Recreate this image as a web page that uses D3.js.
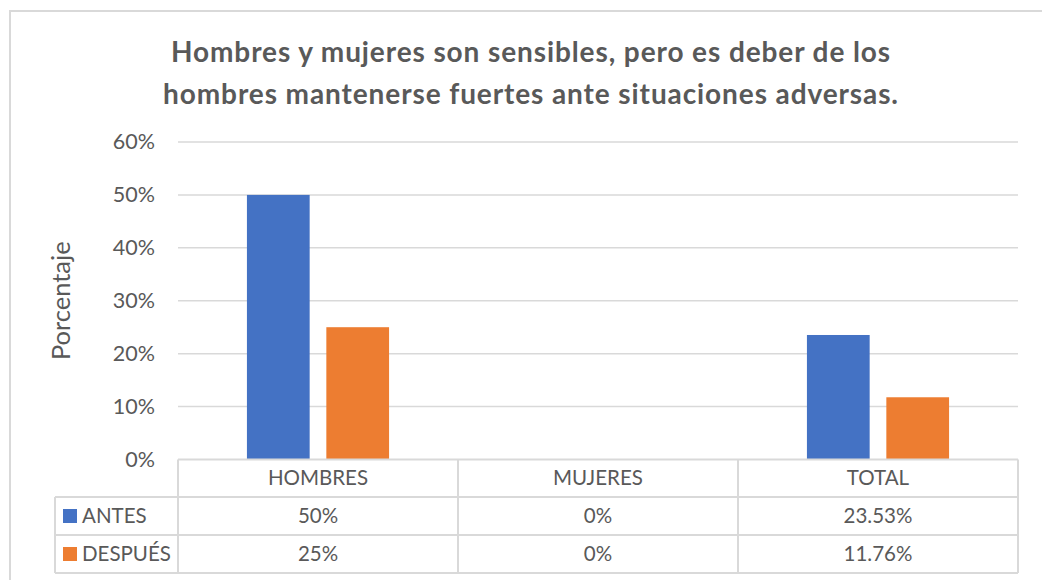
<!DOCTYPE html>
<html>
<head>
<meta charset="utf-8">
<script src="https://cdn.jsdelivr.net/npm/d3@7"></script>
<style>
  html, body { margin: 0; padding: 0; background: #fff; }
  svg { display: block; }
  text { font-family: Lato, "Open Sans", sans-serif; fill: #595959; }
</style>
</head>
<body>
<svg id="chart" width="1042" height="580"></svg>
<script>
const titleLines = ["Hombres y mujeres son sensibles, pero es deber de los",
                    "hombres mantenerse fuertes ante situaciones adversas."];
const categories = ["HOMBRES", "MUJERES", "TOTAL"];
const seriesNames = ["ANTES", "DESPUÉS"];
const antes = [0.50, 0.0, 0.2353];
const despues = [0.25, 0.0, 0.1176];
const antesLabels = ["50%", "0%", "23.53%"];
const despuesLabels = ["25%", "0%", "11.76%"];
const yTicks = [0, 0.1, 0.2, 0.3, 0.4, 0.5, 0.6];
const colors = ["#4472C4", "#ED7D31"];
const yTitle = "Porcentaje";

const series = [antes, despues];
const seriesLabels = [antesLabels, despuesLabels];

const svg = d3.select("#chart");

// outer chart border
svg.append("rect")
  .attr("x", 10).attr("y", 11).attr("width", 1050).attr("height", 600)
  .attr("fill", "none").attr("stroke", "#d9d9d9").attr("stroke-width", 2);

const plot = {left: 178, right: 1018, top: 142, bottom: 459.5};

const x = d3.scaleBand().domain(categories).range([plot.left, plot.right]).padding(0);
const xs = d3.scaleBand().domain(seriesNames).range([0, x.bandwidth()])
  .paddingInner(0.21).paddingOuter(0.868);
const y = d3.scaleLinear().domain([0, 0.6]).range([plot.bottom, plot.top]);

// title
svg.append("g").selectAll("text").data(titleLines).join("text")
  .attr("x", 531).attr("y", (d, i) => 62 + i * 42)
  .attr("text-anchor", "middle")
  .attr("font-size", 28).attr("font-weight", "bold")
  .attr("letter-spacing", 0.9)
  .text(d => d);

// gridlines
svg.append("g").selectAll("line").data(yTicks.filter(t => t > 0)).join("line")
  .attr("x1", plot.left).attr("x2", plot.right)
  .attr("y1", d => y(d)).attr("y2", d => y(d))
  .attr("stroke", "#d9d9d9").attr("stroke-width", 1.5);

// y axis labels
const yAxis = d3.axisLeft(y).tickValues(yTicks).tickFormat(d3.format(".0%")).tickSize(0).tickPadding(23);
const yg = svg.append("g").attr("transform", `translate(${plot.left},0)`).call(yAxis);
yg.select(".domain").remove();
yg.selectAll("text").attr("font-size", 21.5).attr("fill", "#595959")
  .attr("font-family", "Lato, 'Open Sans', sans-serif");

// y title
svg.append("text")
  .attr("transform", `translate(69.5,${(plot.top + plot.bottom) / 2}) rotate(-90)`)
  .attr("text-anchor", "middle").attr("font-size", 25.5)
  .text(yTitle);

// bars
const groups = svg.append("g").selectAll("g").data(seriesNames).join("g")
  .attr("fill", (d, i) => colors[i]);
groups.selectAll("rect").data((s, si) => series[si].map((v, ci) => ({s, v, c: categories[ci]})))
  .join("rect")
  .attr("x", d => x(d.c) + xs(d.s))
  .attr("width", xs.bandwidth())
  .attr("y", d => y(d.v))
  .attr("height", d => y(0) - y(d.v));

// data table
const rowTop = [459.5, 497, 535, 573];
const legendLeft = 55;
const tbl = svg.append("g").attr("stroke", "#d9d9d9").attr("stroke-width", 2);
tbl.append("line").attr("x1", plot.left).attr("x2", plot.right).attr("y1", rowTop[0]).attr("y2", rowTop[0]);
[1, 2, 3].forEach(i => {
  tbl.append("line").attr("x1", legendLeft).attr("x2", plot.right).attr("y1", rowTop[i]).attr("y2", rowTop[i]);
});
tbl.append("line").attr("x1", legendLeft).attr("x2", legendLeft).attr("y1", rowTop[1]).attr("y2", rowTop[3]);
const vx = categories.map(c => x(c)).concat([plot.right]);
tbl.selectAll(".v").data(vx).join("line")
  .attr("x1", d => d).attr("x2", d => d).attr("y1", rowTop[0]).attr("y2", rowTop[3]);

// header labels
svg.append("g").selectAll("text").data(categories).join("text")
  .attr("x", d => x(d) + x.bandwidth() / 2)
  .attr("y", (rowTop[0] + rowTop[1]) / 2 + 7)
  .attr("text-anchor", "middle").attr("font-size", 20.5)
  .text(d => d);

// rows
seriesNames.forEach((s, si) => {
  const yc = (rowTop[si + 1] + rowTop[si + 2]) / 2;
  svg.append("rect").attr("x", 63).attr("y", yc - 7).attr("width", 14).attr("height", 14)
    .attr("fill", colors[si]);
  svg.append("text").attr("x", 82).attr("y", yc + 7).attr("font-size", 20.5).text(s);
  svg.append("g").selectAll("text").data(seriesLabels[si]).join("text")
    .attr("x", (d, i) => x(categories[i]) + x.bandwidth() / 2)
    .attr("y", yc + 7)
    .attr("text-anchor", "middle").attr("font-size", 20.5)
    .text(d => d);
});
</script>
</body>
</html>
